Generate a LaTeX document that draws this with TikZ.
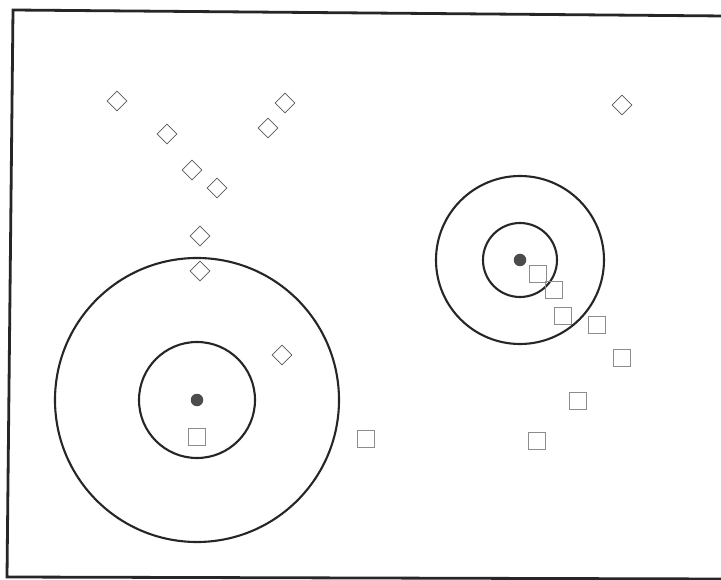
\documentclass[tikz,border=0pt]{standalone}
\usetikzlibrary{shapes.geometric}
\begin{document}
\begin{tikzpicture}[x=1pt,y=-1pt,
  ring/.style={draw=black!85,line width=2.1pt},
  hub/.style={circle,fill=black!70,inner sep=0pt,minimum size=12.5pt},
  dmd/.style={draw=black!65,line width=0.8pt,diamond,inner sep=0pt,minimum size=20pt,shape aspect=1},
  sqr/.style={draw=black!45,line width=0.8pt,rectangle,inner sep=0pt,minimum size=17pt},
  frame/.style={draw=black!85,line width=2.8pt}]
\useasboundingbox (0,0) rectangle (721,580);
\fill[white] (0,0) rectangle (721,580);
% frame
\coordinate (ftr) at (725,16);
\coordinate (ftl) at (13,10);
\coordinate (fbl) at (7,577);
\coordinate (fbr) at (725,579);
\draw[frame] (ftr) -- (ftl) -- (fbl) -- (fbr);
% left cluster
\node[hub] (c1) at (197,400) {};
\draw[ring] (c1) circle[radius=142];
\draw[ring] (c1) circle[radius=58];
% right cluster
\node[hub] (c2) at (520,260) {};
\draw[ring] (c2) circle[radius=84];
\draw[ring] (c2) circle[radius=37];
% diamonds
\node[dmd] (d1) at (117,101) {};
\node[dmd] (d2) at (167,134) {};
\node[dmd] (d3) at (192,170) {};
\node[dmd] (d4) at (217,188) {};
\node[dmd] (d5) at (200,236) {};
\node[dmd] (d6) at (200,271) {};
\node[dmd] (d7) at (285,103) {};
\node[dmd] (d8) at (268,128) {};
\node[dmd] (d9) at (282,355) {};
\node[dmd] (d10) at (622,105) {};
% squares
\node[sqr] (s1) at (197,437) {};
\node[sqr] (s2) at (366,439) {};
\node[sqr] (s3) at (538,274) {};
\node[sqr] (s4) at (554,290) {};
\node[sqr] (s5) at (563,316) {};
\node[sqr] (s6) at (597,325) {};
\node[sqr] (s7) at (622,358) {};
\node[sqr] (s8) at (578,401) {};
\node[sqr] (s9) at (537,441) {};
\end{tikzpicture}
\end{document}
